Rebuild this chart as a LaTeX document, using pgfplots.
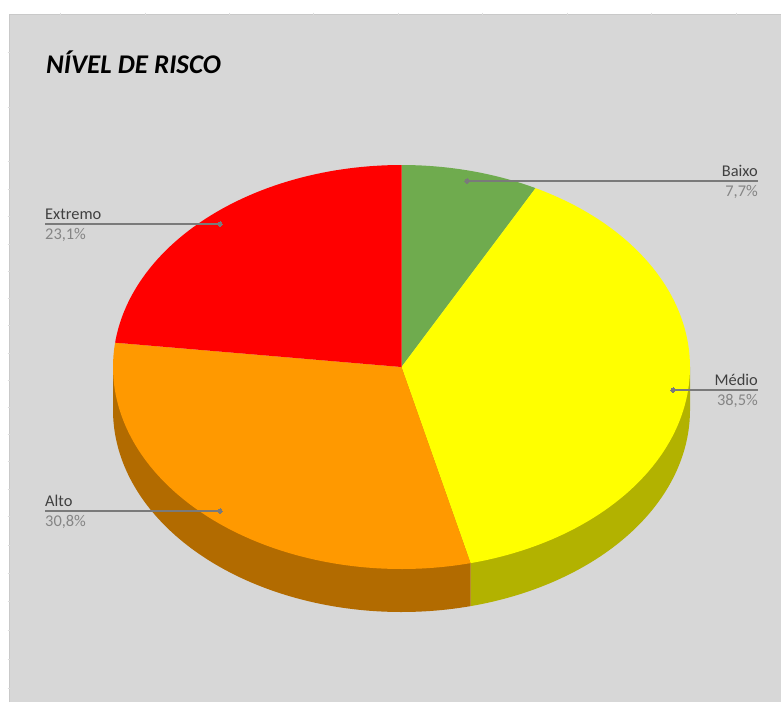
\documentclass[border=0pt]{standalone}
\usepackage{pgfplots}
\usepackage{pgfplotstable}
\usepackage{fontspec}
\pgfplotsset{compat=1.18}
\setmainfont{Carlito}

\definecolor{panel}{HTML}{D7D7D7}
\definecolor{panelrule}{HTML}{C9C9C9}
\definecolor{celltick}{HTML}{DDDDDD}
\definecolor{leader}{HTML}{7A7A7A}
\definecolor{catname}{HTML}{404040}
\definecolor{catvalue}{HTML}{858585}
\definecolor{baixo}{HTML}{6FAB4E}
\definecolor{medio}{HTML}{FFFF00}
\definecolor{medioside}{HTML}{B2B200}
\definecolor{alto}{HTML}{FF9900}
\definecolor{altoside}{HTML}{B26B00}
\definecolor{extremo}{HTML}{FF0000}

% Share of each risk level, in percent, in clockwise order from twelve o'clock
\pgfplotstableread{
nivel   valor
Baixo   7.7
Medio   38.5
Alto    30.8
Extremo 23.1
}\riscotable

% Projected disc: centre, semi-axes and rim depth
\newcommand{\cx}{401.5}
\newcommand{\cy}{367}
\newcommand{\rx}{288.5}
\newcommand{\ry}{202}
\newcommand{\rim}{43}

% Top face of a slice running from angle #1 to angle #2
\newcommand{\slice}[3]{%
  \addplot[fill=#3, draw=none, domain=#1:#2, samples=90, variable=\t, forget plot]
    ({\cx+\rx*sin(\t)}, {\cy-\ry*cos(\t)})
    -- (axis cs:\cx,\cy) -- cycle;}

% Visible rim below a slice; the top faces are painted over its upper part
\newcommand{\rimpart}[3]{%
  \addplot[fill=#3, draw=none, domain=#1:#2, samples=90, variable=\t, forget plot]
    ({\cx+\rx*sin(\t)}, {\cy-\ry*cos(\t)+\rim})
    -- (axis cs:{\cx+\rx*sin(#2)},{\cy-\ry*cos(#2)})
    -- (axis cs:\cx,\cy)
    -- (axis cs:{\cx+\rx*sin(#1)},{\cy-\ry*cos(#1)}) -- cycle;}

\begin{document}
\begin{tikzpicture}
% Slice boundaries as angles, from the table
\pgfplotstablegetelem{0}{valor}\of\riscotable\let\va\pgfplotsretval
\pgfplotstablegetelem{1}{valor}\of\riscotable\let\vb\pgfplotsretval
\pgfplotstablegetelem{2}{valor}\of\riscotable\let\vc\pgfplotsretval
\pgfplotstablegetelem{3}{valor}\of\riscotable\let\vd\pgfplotsretval
\pgfmathsetmacro{\total}{\va+\vb+\vc+\vd}
\pgfmathsetmacro{\angA}{360*(\va/\total)}
\pgfmathsetmacro{\angB}{360*((\va+\vb)/\total)}
\pgfmathsetmacro{\angC}{360*((\va+\vb+\vc)/\total)}
\begin{axis}[
  scale only axis, width=781pt, height=702pt,
  xmin=0, xmax=781, ymin=0, ymax=702, y dir=reverse,
  hide axis, clip=true,
]
% Page and panel
\fill[white] (axis cs:0,0) rectangle (axis cs:781,702);
\fill[panel] (axis cs:9.5,14.5) rectangle (axis cs:781,702);
\draw[panelrule, line width=0.8pt] (axis cs:9.5,702) -- (axis cs:9.5,14.5) -- (axis cs:781,14.5);
% Small cell ticks along the panel edges
\pgfplotsinvokeforeach{60.7,145,229.3,313.7,398,482.7,567,651.7,736}{
  \draw[celltick, line width=0.8pt] (axis cs:#1,12.5) -- (axis cs:#1,14.5);
}
\pgfplotsinvokeforeach{52.3,107,161.7,189,216.7,244,271,298.3,325.7,353,380,407.3,434.7,461.7,489,516.7,545,573,601.7,630.7,659,688}{
  \draw[celltick, line width=0.8pt] (axis cs:7.5,#1) -- (axis cs:9.5,#1);
}

% Rim first, then the four top faces
\rimpart{90}{\angB}{medioside}
\rimpart{\angB}{270}{altoside}
\slice{0}{\angA}{baixo}
\slice{\angA}{\angB}{medio}
\slice{\angB}{\angC}{alto}
\slice{\angC}{360}{extremo}

% Leader lines
\addplot[leader, line width=1.3pt, forget plot] coordinates {(467,181) (758,181)};
\addplot[leader, line width=1.3pt, forget plot] coordinates {(673,390) (758,390)};
\addplot[leader, line width=1.3pt, forget plot] coordinates {(220,511) (45,511)};
\addplot[leader, line width=1.3pt, forget plot] coordinates {(220,224) (45,224)};
\addplot[leader, only marks, mark=*, mark size=2.2pt, mark options={fill=leader, draw=leader, line width=0pt}, forget plot]
  coordinates {(467,181) (673,390) (220,511) (220,224)};

% Title and data labels
\node[anchor=base west, inner sep=0pt, font=\fontsize{27}{27}\selectfont\bfseries\itshape, text=black]
  at (axis cs:46,73) {NÍVEL DE RISCO};
\newcommand{\lab}[5]{%
  \node[anchor=base #1, inner sep=0pt, font=\fontsize{16.4}{16.4}\selectfont, text=catname] at (axis cs:#2,#3-5) {#4};
  \node[anchor=base #1, inner sep=0pt, font=\fontsize{16.4}{16.4}\selectfont, text=catvalue] at (axis cs:#2,#3+15) {#5};}
\lab{east}{758}{181}{Baixo}{7,7\%}
\lab{east}{758}{390}{Médio}{38,5\%}
\lab{west}{45}{511}{Alto}{30,8\%}
\lab{west}{45}{224}{Extremo}{23,1\%}
\end{axis}
\end{tikzpicture}
\end{document}
